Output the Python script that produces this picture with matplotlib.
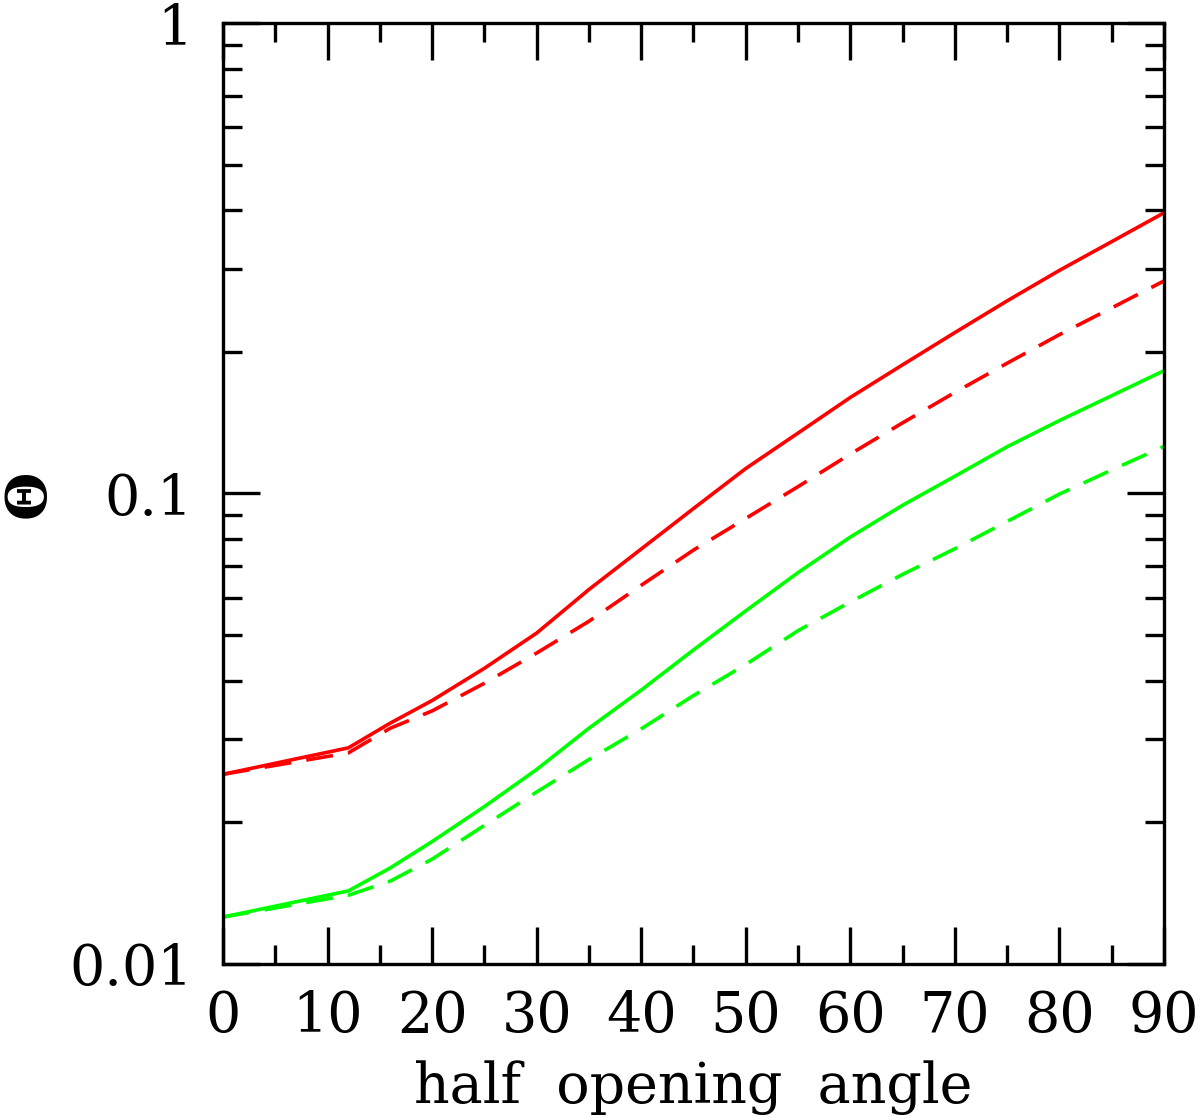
import matplotlib
matplotlib.use("Agg")
import matplotlib.pyplot as plt
from matplotlib.ticker import FixedLocator, FixedFormatter, MultipleLocator, LogLocator, NullFormatter

# half opening angle (degrees)
angle = [0, 12, 16, 20, 25, 30, 35, 40, 45, 50, 55, 60, 65, 70, 75, 80, 85, 90]

red_solid = [0.0253, 0.0288, 0.0325, 0.0363, 0.0425, 0.0505, 0.0625, 0.0762, 0.0929,
             0.1130, 0.1344, 0.160, 0.1877, 0.2198, 0.2567, 0.298, 0.343, 0.395]
red_dashed = [0.0253, 0.0281, 0.0317, 0.0345, 0.0395, 0.0458, 0.0535, 0.0638, 0.0758,
              0.0885, 0.1034, 0.1213, 0.1413, 0.1640, 0.1892, 0.2176, 0.248, 0.283]
green_solid = [0.01258, 0.0143, 0.0160, 0.0182, 0.0216, 0.0259, 0.0317, 0.0382, 0.0465,
               0.0563, 0.0679, 0.0808, 0.0944, 0.1088, 0.1257, 0.1429, 0.1614, 0.1824]
green_dashed = [0.01258, 0.0140, 0.0150, 0.0167, 0.0197, 0.0232, 0.0272, 0.0316, 0.0372,
                0.0433, 0.0511, 0.0588, 0.0673, 0.0763, 0.0872, 0.0997, 0.1122, 0.1259]

y_ticks = [0.01, 0.1, 1]
y_ticklabels = ["0.01", "0.1", "1"]
x_ticks = [0, 10, 20, 30, 40, 50, 60, 70, 80, 90]

plt.rcParams['font.family'] = ['DejaVu Serif']

fig = plt.figure(figsize=(12, 11.17), dpi=100)
ax = fig.add_axes([0.1858, 0.1370, 0.9700 - 0.1858, 0.9794 - 0.1370])

lw = 2.6
dash = (7.5, 4.2)
ax.plot(angle, red_solid, color='#ff0000', lw=lw)
ax.plot(angle, red_dashed, color='#ff0000', lw=lw, linestyle=(0, dash))
ax.plot(angle, green_solid, color='#00ff00', lw=lw)
ax.plot(angle, green_dashed, color='#00ff00', lw=lw, linestyle=(0, dash))

ax.set_yscale('log')
ax.set_xlim(0, 90)
ax.set_ylim(0.01, 1)

ax.xaxis.set_major_locator(FixedLocator(x_ticks))
ax.xaxis.set_minor_locator(MultipleLocator(5))
ax.yaxis.set_major_locator(FixedLocator(y_ticks))
ax.yaxis.set_major_formatter(FixedFormatter(y_ticklabels))
ax.yaxis.set_minor_locator(LogLocator(base=10, subs=range(2, 10)))
ax.yaxis.set_minor_formatter(NullFormatter())

for s in ax.spines.values():
    s.set_linewidth(2.4)

ax.tick_params(which='both', direction='in', top=True, right=True, width=2.4, labelsize=40)
ax.tick_params(which='major', length=26.6)
ax.tick_params(which='minor', length=13.7)
ax.tick_params(axis='x', which='major', pad=18)
ax.tick_params(axis='y', which='major', pad=22)

ax.set_xlabel('half  opening  angle', fontsize=40, labelpad=12)
ax.set_ylabel('Θ', fontsize=40, fontweight='bold')
ax.yaxis.label.set_va('center')
ax.yaxis.set_label_coords(-0.206, 0.5)

fig.savefig('out.png', dpi=100)
